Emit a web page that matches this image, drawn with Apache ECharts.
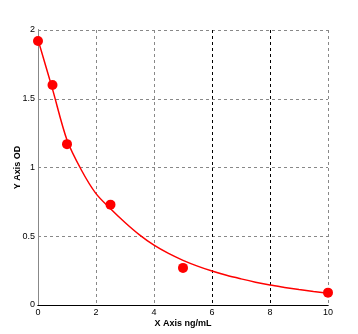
<!DOCTYPE html>
<html><head><meta charset="utf-8">
<script src="https://cdn.jsdelivr.net/npm/echarts@6/dist/echarts.min.js"></script>
<style>html,body{margin:0;padding:0;background:#fff}#c{width:358px;height:334px}</style>
</head><body><div id="c"></div>
<script>
var pointX = [0, 0.5, 1, 2.5, 5, 10];
var pointY = [1.92, 1.60, 1.17, 0.73, 0.27, 0.09];
var curveX = [0, 0.5, 1, 1.5, 2, 2.5, 3, 3.5, 4, 4.5, 5, 5.5, 6, 6.5, 7, 7.5, 8, 8.5, 9, 9.5, 10];
var curveY = [1.93, 1.57, 1.20, 0.98, 0.81, 0.70, 0.60, 0.51, 0.435, 0.375, 0.325, 0.283, 0.247, 0.216, 0.19, 0.166, 0.145, 0.128, 0.112, 0.098, 0.086];
var xTickLabels = ['0', '2', '4', '6', '8', '10'];
var yTickLabels = ['0', '0.5', '1', '1.5', '2'];

var font = 'Liberation Sans, Arial, sans-serif';
var chart = echarts.init(document.getElementById('c'));
chart.setOption({
  animation: false,
  grid: {left: 38, top: 30, right: 30, bottom: 29, containLabel: false, outerBoundsMode: 'none'},
  xAxis: [{
    type: 'value', min: 0, max: 10, interval: 2,
    name: 'X Axis ng/mL', nameLocation: 'middle', nameGap: 14, nameMoveOverlap: false,
    nameTextStyle: {fontFamily: font, fontSize: 9, fontWeight: 'bold', color: '#000'},
    axisLine: {show: true, lineStyle: {color: '#000', width: 1}},
    axisTick: {show: false},
    axisLabel: {fontFamily: font, fontSize: 9, color: '#000', margin: 3,
      formatter: function (v) { return xTickLabels[Math.round(v / 2)]; }},
    splitLine: {show: true, lineStyle: {type: [3, 3], width: 1,
      color: ['#888', '#888', '#888', '#000', '#000', '#888']}}
  }, {
    type: 'value', min: 0, max: 10, position: 'top',
    axisLine: {show: true, lineStyle: {color: '#000', width: 1}},
    axisTick: {show: false}, axisLabel: {show: false}, splitLine: {show: false}
  }],
  yAxis: [{
    type: 'value', min: 0, max: 2, interval: 0.5,
    name: 'Y Axis OD', nameLocation: 'middle', nameGap: 16, nameRotate: 90, nameMoveOverlap: false,
    nameTextStyle: {fontFamily: font, fontSize: 9, fontWeight: 'bold', color: '#000'},
    axisLine: {show: true, lineStyle: {color: '#000', width: 1}},
    axisTick: {show: false},
    axisLabel: {fontFamily: font, fontSize: 9, color: '#000', margin: 3,
      formatter: function (v) { return yTickLabels[Math.round(v / 0.5)]; }},
    splitLine: {show: true, lineStyle: {type: [3, 3], color: '#888', width: 1}}
  }, {
    type: 'value', min: 0, max: 2, position: 'right',
    axisLine: {show: true, lineStyle: {color: '#888', width: 1}},
    axisTick: {show: false}, axisLabel: {show: false}, splitLine: {show: false}
  }],
  series: [{
    type: 'line', smooth: 0.3, symbol: 'none',
    data: curveX.map(function (x, i) { return [x, curveY[i]]; }),
    lineStyle: {color: '#ff0000', width: 1.5}, z: 2
  }, {
    type: 'scatter', symbol: 'circle', symbolSize: 10,
    data: pointX.map(function (x, i) { return [x, pointY[i]]; }),
    itemStyle: {color: '#ff0000', opacity: 1}, z: 3
  }]
});
</script></body></html>
